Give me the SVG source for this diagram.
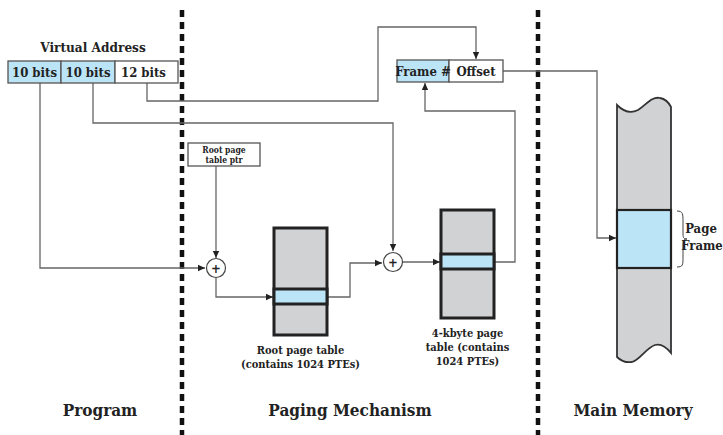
<svg xmlns="http://www.w3.org/2000/svg" width="723" height="435" viewBox="0 0 723 435">
<defs>
<marker id="ah" markerWidth="8" markerHeight="8" refX="7" refY="4" orient="auto" markerUnits="userSpaceOnUse">
<path d="M0,0.8 L7,4 L0,7.2 Z" fill="#222"/>
</marker>
<style>
text{font-family:"DejaVu Serif Condensed","DejaVu Serif",serif;font-stretch:condensed;font-weight:bold;fill:#222}
.lbl{font-size:13px}
.small{font-size:8.5px}
.tl{font-size:11px}
.big{font-size:17px}
.ln{fill:none;stroke:#666;stroke-width:1.3}
.div{stroke:#111;stroke-width:4.5;stroke-dasharray:7 5}
.box{stroke:#555;stroke-width:1.3}
.tab{fill:#d1d2d4;stroke:#222;stroke-width:3}
.blue{fill:#bce4f7}
</style>
</defs>
<rect width="723" height="435" fill="#fff"/>
<g id="dividers">
<line class="div" x1="182" y1="10" x2="182" y2="435"/>
<line class="div" x1="538" y1="10" x2="538" y2="435"/>
</g>
<g id="connectors">
<path class="ln" d="M40,83 V268 H205" marker-end="url(#ah)"/>
<path class="ln" d="M93,83 V123 H393 V251" marker-end="url(#ah)"/>
<path class="ln" d="M147,83 V101 H378 V27 H476 V59" marker-end="url(#ah)"/>
<path class="ln" d="M216,166 V258" marker-end="url(#ah)"/>
<path class="ln" d="M216,278 V297 H273" marker-end="url(#ah)"/>
<path class="ln" d="M327,297 H350 V263 H382" marker-end="url(#ah)"/>
<path class="ln" d="M402,262 H440" marker-end="url(#ah)"/>
<path class="ln" d="M494,262 H515 V111 H425 V83" marker-end="url(#ah)"/>
<path class="ln" d="M503,71 H597 V238 H616" marker-end="url(#ah)"/>
</g>
<g id="virtual-address">
<text x="93" y="52" text-anchor="middle" font-size="13.5">Virtual Address</text>
<rect class="box blue" x="8" y="61" width="53" height="22"/>
<rect class="box blue" x="61" y="61" width="54" height="22"/>
<rect class="box" x="115" y="61" width="63" height="22" fill="#fff"/>
<text class="lbl" x="34.5" y="76.5" text-anchor="middle">10 bits</text>
<text class="lbl" x="88" y="76.5" text-anchor="middle">10 bits</text>
<text class="lbl" x="121" y="76.5">12 bits</text>
</g>
<g id="root-ptr">
<rect class="box" x="188" y="143" width="72" height="23" fill="#fff"/>
<text class="small" x="224" y="153" text-anchor="middle">Root page</text>
<text class="small" x="224" y="163" text-anchor="middle">table ptr</text>
</g>
<g id="adder1">
<circle cx="216" cy="268" r="9.5" fill="#fff" stroke="#444" stroke-width="1.2"/>
<text x="216" y="272.5" text-anchor="middle" font-size="13">+</text>
</g>
<g id="root-table">
<rect class="tab" x="274" y="228" width="53" height="107"/>
<rect class="tab blue" x="274" y="289" width="53" height="15"/>
<text class="tl" x="300.5" y="354" text-anchor="middle">Root page table</text>
<text class="tl" x="300.5" y="368" text-anchor="middle">(contains 1024 PTEs)</text>
</g>
<g id="adder2">
<circle cx="393" cy="262" r="9.5" fill="#fff" stroke="#444" stroke-width="1.2"/>
<text x="393" y="266.5" text-anchor="middle" font-size="13">+</text>
</g>
<g id="page-table">
<rect class="tab" x="441" y="210" width="53" height="108"/>
<rect class="tab blue" x="441" y="254" width="53" height="15"/>
<text class="tl" x="467.5" y="337" text-anchor="middle">4-kbyte page</text>
<text class="tl" x="467.5" y="351" text-anchor="middle">table (contains</text>
<text class="tl" x="467.5" y="365" text-anchor="middle">1024 PTEs)</text>
</g>
<g id="physical-address">
<rect class="box blue" x="397" y="60" width="52" height="22"/>
<rect class="box" x="449" y="60" width="54" height="22" fill="#fff"/>
<text class="lbl" x="423" y="75.5" text-anchor="middle" font-size="12">Frame #</text>
<text class="lbl" x="476" y="75.5" text-anchor="middle">Offset</text>
</g>
<g id="main-memory">
<path d="M617,105 C623,111 630,114 638,110 C646,105 652,96 660,98 C666,99 669,103 671,107 V353 C667,348 662,343 655,345 C646,348 640,360 632,362 C625,363 620,360 617,357 Z" fill="#d1d2d4" stroke="#333" stroke-width="1.8"/>
<rect x="617" y="210" width="54" height="58" fill="#bce4f7" stroke="#222" stroke-width="2.2"/>
<path d="M677,211 C683,211 683,214 683,222 V234 C683,238 684,239 687,239 C684,239 683,240 683,244 V257 C683,265 683,267 677,267" fill="none" stroke="#444" stroke-width="1"/>
<text class="lbl" x="701" y="233" text-anchor="middle">Page</text>
<text class="lbl" x="702" y="250" text-anchor="middle" font-size="12.5">Frame</text>
</g>
<g id="section-labels">
<text class="big" x="100" y="416" text-anchor="middle">Program</text>
<text class="big" x="350" y="416" text-anchor="middle">Paging Mechanism</text>
<text class="big" x="633" y="416" text-anchor="middle">Main Memory</text>
</g>
</svg>
